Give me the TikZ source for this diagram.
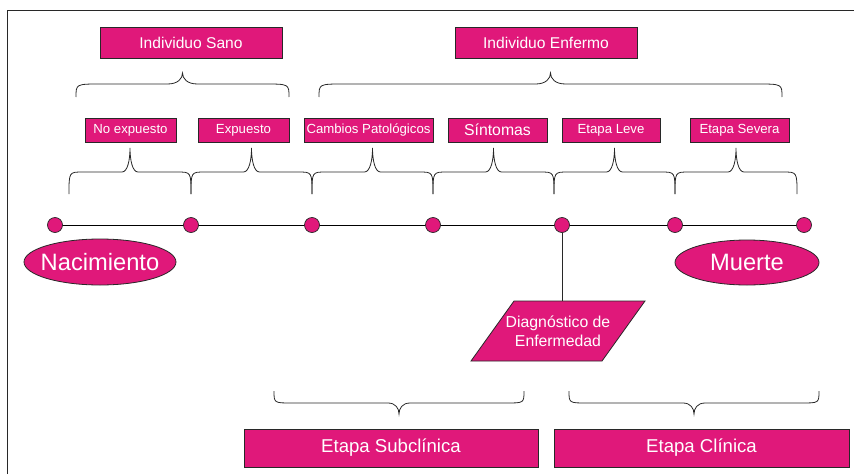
\documentclass[tikz,border=0pt]{standalone}
\usepackage{fontspec}
\setmainfont{Liberation Sans}
\usetikzlibrary{shapes.geometric}
\definecolor{rosa}{RGB}{224,24,122}
\definecolor{linea}{RGB}{40,40,40}

% Curly brace: x0, x1, y at the ends, y of the flat part, y of the tip,
% radius of the end curls, half width of the tip
\newcommand{\llave}[7]{%
  \draw[brace line] (#1,#3) .. controls (#1,#4) .. ({#1+#6},#4)
    -- ({(#1+#2)/2-#7},#4)
    .. controls ({(#1+#2)/2-0.3*#7},#4) and ({(#1+#2)/2},{0.5*(#4+#5)}) .. ({(#1+#2)/2},#5)
    .. controls ({(#1+#2)/2},{0.5*(#4+#5)}) and ({(#1+#2)/2+0.3*#7},#4) .. ({(#1+#2)/2+#7},#4)
    -- ({#2-#6},#4) .. controls (#2,#4) .. (#2,#3);}

\tikzset{
  box/.style={draw=linea, fill=rosa, text=white, line width=0.8pt, inner sep=0pt},
  small/.style={box, minimum height=24pt, font=\fontsize{13.2}{15}\selectfont},
  big/.style={box, minimum height=31pt, minimum width=182pt, font=\fontsize{15.6}{18}\selectfont},
  stage/.style={box, minimum height=38pt, font=\fontsize{18.6}{22}\selectfont},
  dot/.style={circle, draw=linea, fill=rosa, line width=0.7pt, minimum size=15pt, inner sep=0pt},
  oval/.style={ellipse, draw=linea, fill=rosa, text=white, line width=0.8pt,
               inner xsep=-6pt, inner ysep=0pt, font=\fontsize{23.7}{28}\selectfont},
  brace line/.style={draw=linea, line width=0.8pt},
  tl/.style={draw=black, line width=0.9pt},
  frame/.style={draw=linea, line width=0.9pt}
}

\begin{document}
\begin{tikzpicture}[x=1pt, y=-1pt]
\useasboundingbox (0,0) rectangle (854,474);
\draw[frame] (7,474) -- (7,10) -- (854,10);

% top labels
\node[big] (sano) at (191,42.5) {Individuo Sano};
\node[big] (enfermo) at (546,42.5) {Individuo Enfermo};
\llave{76}{289}{97}{84}{73}{25}{15}
\llave{319}{782}{97}{84}{73}{25}{15}

% stage labels
\node[small, minimum width=91pt] (noexp) at (130.5,130) {No expuesto};
\node[small, minimum width=91pt] (exp) at (243.5,130) {Expuesto};
\node[small, minimum width=129pt] (camb) at (368.5,130) {Cambios Patológicos};
\node[small, minimum width=99pt, font=\fontsize{15.8}{18}\selectfont] (sint) at (497.5,130) {Síntomas};
\node[small, minimum width=98pt] (leve) at (611,130) {Etapa Leve};
\node[small, minimum width=99pt] (severa) at (739.5,130) {Etapa Severa};

\llave{69}{191}{194}{172}{148}{14}{8}
\llave{191}{312}{194}{172}{148}{14}{8}
\llave{312}{433}{194}{172}{148}{14}{8}
\llave{433}{554}{194}{172}{148}{14}{8}
\llave{554}{675}{194}{172}{148}{14}{8}
\llave{675}{797}{194}{172}{148}{14}{8}

% time line
\coordinate (p1) at (55,225);
\coordinate (p7) at (804,225);
\draw[tl] (p1) -- (p7);
\node[dot] (d1) at (55,225) {};
\node[dot] (d2) at (191,225) {};
\node[dot] (d3) at (312,225) {};
\node[dot] (d4) at (433,225) {};
\node[dot] (d5) at (562,225) {};
\node[dot] (d6) at (675,225) {};
\node[dot] (d7) at (804,225) {};

\node[oval, minimum width=152pt, minimum height=46pt] (nac) at (100,262) {Nacimiento};
\node[oval, minimum width=144pt, minimum height=45pt] (muerte) at (747,262.5) {Muerte};

% diagnosis
\filldraw[fill=rosa, draw=linea, line width=0.8pt] (514,301) -- (645,301) -- (602,361) -- (471,361) -- cycle;
\node[text=white, align=center, inner sep=0pt, minimum height=60pt,
      font=\fontsize{15.8}{19}\selectfont] (diag) at (558,331) {Diagnóstico de\\Enfermedad};
\draw[draw=linea, line width=0.8pt] (d5) -- (d5 |- diag.north);

% bottom stages
\llave{274}{524}{391}{403}{414}{18}{11}
\llave{569}{819}{391}{403}{414}{18}{11}
\node[stage, minimum width=294pt] (subcl) at (391,448) {Etapa Subclínica};
\node[stage, minimum width=295pt] (clin) at (701.5,448) {Etapa Clínica};
\end{tikzpicture}
\end{document}
